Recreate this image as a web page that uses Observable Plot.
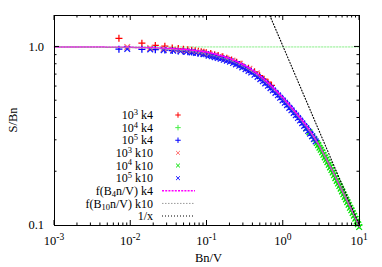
<!DOCTYPE html>
<html><head><meta charset="utf-8">
<script src="https://cdn.jsdelivr.net/npm/d3@7"></script>
<script src="https://cdn.jsdelivr.net/npm/@observablehq/plot@0.6"></script>
<style>
body{margin:0;background:#fff;}
#chart svg{display:block;}
#chart svg text, #chart svg tspan{font-family:"Liberation Serif","Times New Roman",serif !important;}
</style>
</head><body><div id="chart"></div>
<script>
// ---- data (x = Bn/V, y = S/Bn) ----
// 10^3 k4 (red +)
const s1e3k4X = [0.007,0.014,0.021,0.028,0.035,0.042,0.049,0.056,0.063,0.07,0.077,0.084,0.091,0.098,0.112,0.126,0.14,0.161,0.182,0.21,0.245,0.28,0.35,0.42,0.49,0.56,0.63,0.7];
const s1e3k4Y = [1.118,1.05,1.02,1.01,0.985,0.98,0.972,0.965,0.958,0.952,0.945,0.94,0.934,0.928,0.918,0.905,0.895,0.88,0.865,0.845,0.822,0.80,0.76,0.725,0.69,0.66,0.635,0.61];
// 10^4 k4 (light green +)
const s1e4k4X = [2.75,2.86,2.98,3.1,3.23,3.36,3.5,3.64,3.79,3.95,4.11,4.28,4.45,4.63,4.82,5.02,5.23,5.44,5.66,5.89,6.13,6.38,6.64,6.91,7.19,7.49,7.8,8.12,8.45,8.8,9.16,9.53,9.9];
const s1e4k4Y = [0.2969,0.289,0.2796,0.2722,0.2635,0.2553,0.2466,0.2393,0.2319,0.2242,0.2169,0.2097,0.2029,0.196,0.189,0.1822,0.1762,0.1705,0.1648,0.1592,0.1533,0.1482,0.1434,0.1386,0.1339,0.1289,0.1247,0.1205,0.1163,0.112,0.108,0.1041,0.1005];
// 10^5 k4 (blue +)
const s1e5k4X = [0.007,0.014,0.021,0.028,0.035,0.042,0.049,0.056,0.063,0.07,0.077,0.084,0.091,0.098,
  0.105,0.115,0.126,0.138,0.151,0.166,0.182,0.2,0.22,0.24,0.265,0.29,0.32,0.35,0.38,0.42,0.46,0.5,0.54,0.58,0.63,0.68,0.73,0.79,0.85,0.91,0.98,1.05,1.12,1.2,1.28,1.37,1.46,1.56,1.66,1.77,1.88,2.0,2.12,2.25,2.38,2.52,2.66];
const s1e5k4Y = [0.972,0.97,0.965,0.96,0.955,0.95,0.945,0.94,0.936,0.931,0.926,0.921,0.916,0.911,
  0.907,0.899,0.89,0.881,0.872,0.861,0.851,0.84,0.825,0.811,0.796,0.78,0.762,0.745,0.73,0.709,0.689,0.67,0.652,0.635,0.615,0.597,0.58,0.561,0.544,0.527,0.51,0.494,0.479,0.463,0.449,0.434,0.42,0.406,0.393,0.3795,0.367,0.355,0.343,0.332,0.321,0.31,0.30];
// 10^3 k10 (light red x)
const s1e3k10X = [0.009,0.018,0.027,0.036,0.045,0.054,0.063,0.072,0.081,0.09,0.108,0.126,0.144,0.18,0.216,0.27,0.36,0.45];
const s1e3k10Y = [1.0,0.985,0.975,0.965,0.958,0.95,0.943,0.936,0.93,0.923,0.91,0.896,0.884,0.86,0.838,0.805,0.755,0.712];
// 10^4 k10 (green x)
const s1e4k10X = [2.0,2.2,2.4,2.55,2.75,2.86,2.98,3.1,3.23,3.36,3.5,3.64,3.79,3.95,4.11,4.28,4.45,4.63,4.82,5.02,5.23,5.44,5.66,5.89,6.13,6.38,6.64,6.91,7.19,7.49,7.8,8.12,8.45,8.8,9.16,9.53,9.9];
const s1e4k10Y = [0.35,0.333,0.316,0.305,0.2896,0.2819,0.2727,0.2655,0.257,0.249,0.2406,0.2334,0.2262,0.2187,0.2116,0.2045,0.1979,0.1912,0.1843,0.1777,0.1719,0.1663,0.1608,0.1552,0.1495,0.1445,0.1399,0.1352,0.1306,0.1257,0.1217,0.1175,0.1135,0.1092,0.1053,0.1016,0.098];
// 10^5 k10 (blue x)
const s1e5k10X = [0.009,0.018,0.027,0.036,0.045,0.054,0.063,0.072,0.081,0.09,
  0.105,0.115,0.126,0.138,0.151,0.166,0.182,0.2,0.22,0.24,0.265,0.29,0.32,0.35,0.38,0.42,0.46,0.5,0.54,0.58,0.63,0.68,0.73,0.79,0.85,0.91,0.98,1.05,1.12,1.2,1.28,1.37,1.46,1.56,1.66,1.77,1.88,2.0,2.12,2.25,2.38,2.52,2.66];
const s1e5k10Y = [0.975,0.968,0.96,0.953,0.946,0.939,0.932,0.925,0.918,0.911,
  0.893,0.886,0.877,0.868,0.859,0.848,0.838,0.827,0.813,0.799,0.784,0.768,0.751,0.734,0.719,0.698,0.679,0.66,0.642,0.625,0.606,0.588,0.571,0.553,0.536,0.519,0.502,0.487,0.472,0.456,0.442,0.427,0.414,0.40,0.387,0.374,0.361,0.35,0.338,0.327,0.316,0.305,0.296];
// f(B4 n/V) k4 curve (magenta dotted)
const f4X = [0.001,0.01,0.02,0.03,0.05,0.07,0.1,0.15,0.2,0.275,0.4,0.5,0.7,1.0,1.3,1.68,2.0,2.65,3.0,3.5,4.17,5.0,6.22,7.5,8.87,10];
const f4Y = [1.0,0.995,0.988,0.98,0.968,0.955,0.935,0.895,0.86,0.81,0.738,0.686,0.604,0.517,0.455,0.399,0.363,0.303,0.277,0.245,0.2125,0.1815,0.150,0.128,0.110,0.0985];
// f(B10 n/V) k10 curve (grey dotted)
const f10X = [0.001,0.01,0.02,0.03,0.05,0.07,0.1,0.15,0.2,0.275,0.4,0.5,0.7,1.0,1.3,1.68,2.0,2.65,3.0,3.5,4.17,5.0,6.22,7.5,8.87,10];
const f10Y = [1.0,0.99,0.98,0.97,0.953,0.936,0.912,0.873,0.84,0.79,0.72,0.67,0.59,0.505,0.445,0.39,0.355,0.30,0.275,0.243,0.211,0.18,0.149,0.127,0.1095,0.098];
// y = 1 reference (light green dotted) and 1/x (black dotted)
const refX = [0.001,10];
const refY = [1,1];
const invX = [0.6667,10];
const invY = [1.5,0.1];
// axis ticks
const xMajor = [-3,-2,-1,0,1];
const yMajorLabels = [[1,"1.0"],[0.1,"0.1"]];

const rows = (xs, ys) => xs.map((x, i) => ({x, y: ys[i]}));

const series = [
  {label:["10","3"," k4"], x:s1e3k4X, y:s1e3k4Y, sym:"plus", color:"#ff0000"},
  {label:["10","4"," k4"], x:s1e4k4X, y:s1e4k4Y, sym:"plus", color:"#44ee44"},
  {label:["10","5"," k4"], x:s1e5k4X, y:s1e5k4Y, sym:"plus", color:"#0000ff"},
  {label:["10","3"," k10"], x:s1e3k10X, y:s1e3k10Y, sym:"times", color:"#ff7070"},
  {label:["10","4"," k10"], x:s1e4k10X, y:s1e4k10Y, sym:"times", color:"#00e000"},
  {label:["10","5"," k10"], x:s1e5k10X, y:s1e5k10Y, sym:"times", color:"#1a1aff"}
];
const symR = {plus: 2.4, times: 2.7};
const lines = [
  {label:["f(B","4","n/V) k4"], x:f4X, y:f4Y, color:"#ff00ff", w:1.5, dash:"2,1.2"},
  {label:["f(B","10","n/V) k10"], x:f10X, y:f10Y, color:"#999999", w:1, dash:"1.5,1.5"},
  {label:["1/x"], x:invX, y:invY, color:"#000000", w:1.1, dash:"1,2"}
];

const W = 382, H = 267;
const FONT = "'Liberation Serif','Times New Roman',serif";

const chart = Plot.plot({
  width: W, height: H,
  marginLeft: 54, marginRight: 23, marginTop: 15, marginBottom: 42,
  style: {background: "white", fontFamily: FONT, fontSize: "12px", color: "black"},
  x: {type: "log", domain: [1e-3, 10], axis: null},
  y: {type: "log", domain: [0.1, 1.5], axis: null},
  marks: [
    Plot.line(rows(refX, refY), {x:"x", y:"y", stroke:"#88ee88", strokeWidth:1, strokeDasharray:"1.5,1.5"}),
    ...series.map(s => Plot.dot(rows(s.x, s.y), {x:"x", y:"y", symbol:s.sym, r:symR[s.sym], stroke:s.color, strokeWidth:1.25})),
    ...lines.map(l => Plot.line(rows(l.x, l.y), {x:"x", y:"y", stroke:l.color, strokeWidth:l.w, strokeDasharray:l.dash, curve:"monotone-x"})),
    Plot.frame({stroke:"black", strokeWidth:1})
  ]
});
document.getElementById("chart").appendChild(chart);

// ---- gnuplot-style inward ticks, labels and in-plot key ----
const svg = d3.select(chart);
const sx = v => chart.scale("x").apply(v);
const sy = v => chart.scale("y").apply(v);
const L = sx(1e-3), R = sx(10), T = sy(1.5), B = sy(0.1);
const g = svg.append("g").attr("stroke", "black").attr("stroke-width", 1);
function tickX(px, len) {
  g.append("line").attr("x1", px).attr("x2", px).attr("y1", B).attr("y2", B - len);
  g.append("line").attr("x1", px).attr("x2", px).attr("y1", T).attr("y2", T + len);
}
function tickY(py, len) {
  g.append("line").attr("y1", py).attr("y2", py).attr("x1", L).attr("x2", L + len);
  g.append("line").attr("y1", py).attr("y2", py).attr("x1", R).attr("x2", R - len);
}
xMajor.forEach(d => {
  tickX(sx(10 ** d), 5);
  if (d < 1) for (let k = 2; k <= 9; k++) tickX(sx(k * 10 ** d), 2.5);
});
tickY(sy(1), 5);
for (let k = 2; k <= 9; k++) tickY(sy(k / 10), 2.5);

const tg = svg.append("g").style("font-family", FONT).style("font-size", "12.5px").attr("fill", "black");
xMajor.forEach(d => {
  const t = tg.append("text").attr("x", sx(10 ** d)).attr("y", B + 20).attr("text-anchor", "middle");
  t.append("tspan").text("10");
  t.append("tspan").attr("dy", -5).style("font-size", "9.5px").text(String(d));
});
yMajorLabels.forEach(([v, s]) => {
  tg.append("text").attr("x", L - 10).attr("y", sy(v) + 4.3).attr("text-anchor", "end").text(s);
});
tg.append("text").attr("x", (L + R) / 2 + 2).attr("y", H - 5.5).attr("text-anchor", "middle").text("Bn/V");
tg.append("text").attr("transform", `translate(${17},${(T + B) / 2}) rotate(-90)`).attr("text-anchor", "middle").text("S/Bn");

// key
const kg = svg.append("g").style("font-family", FONT).style("font-size", "12px").attr("fill", "black");
const keyTextX = 153, keySymX = 178, keyLine = [162, 195], rowY0 = 115, rowDY = 12.63;
function keyText(parts, y, sub) {
  const t = kg.append("text").attr("x", keyTextX).attr("y", y + 4.2).attr("text-anchor", "end");
  t.append("tspan").text(parts[0]);
  if (parts.length > 1) {
    t.append("tspan").attr("dy", sub ? 2.3 : -4.3).style("font-size", "8.5px").text(parts[1]);
    t.append("tspan").attr("dy", sub ? -2.3 : 4.3).text(parts[2]);
  }
}
series.forEach((s, i) => {
  const y = rowY0 + i * rowDY;
  keyText(s.label, y, false);
  const sym = d3.symbol().type(s.sym === "plus" ? d3.symbolPlus : d3.symbolTimes).size(Math.PI * 1.9 * 1.9);
  kg.append("path").attr("d", sym()).attr("transform", `translate(${keySymX},${y})`)
    .attr("fill", "none").attr("stroke", s.color).attr("stroke-width", 1);
});
lines.forEach((l, j) => {
  const y = rowY0 + (series.length + j) * rowDY;
  keyText(l.label, y, true);
  kg.append("line").attr("x1", keyLine[0]).attr("x2", keyLine[1]).attr("y1", y).attr("y2", y)
    .attr("stroke", l.color).attr("stroke-width", l.w).attr("stroke-dasharray", l.dash);
});
</script>
</body></html>
